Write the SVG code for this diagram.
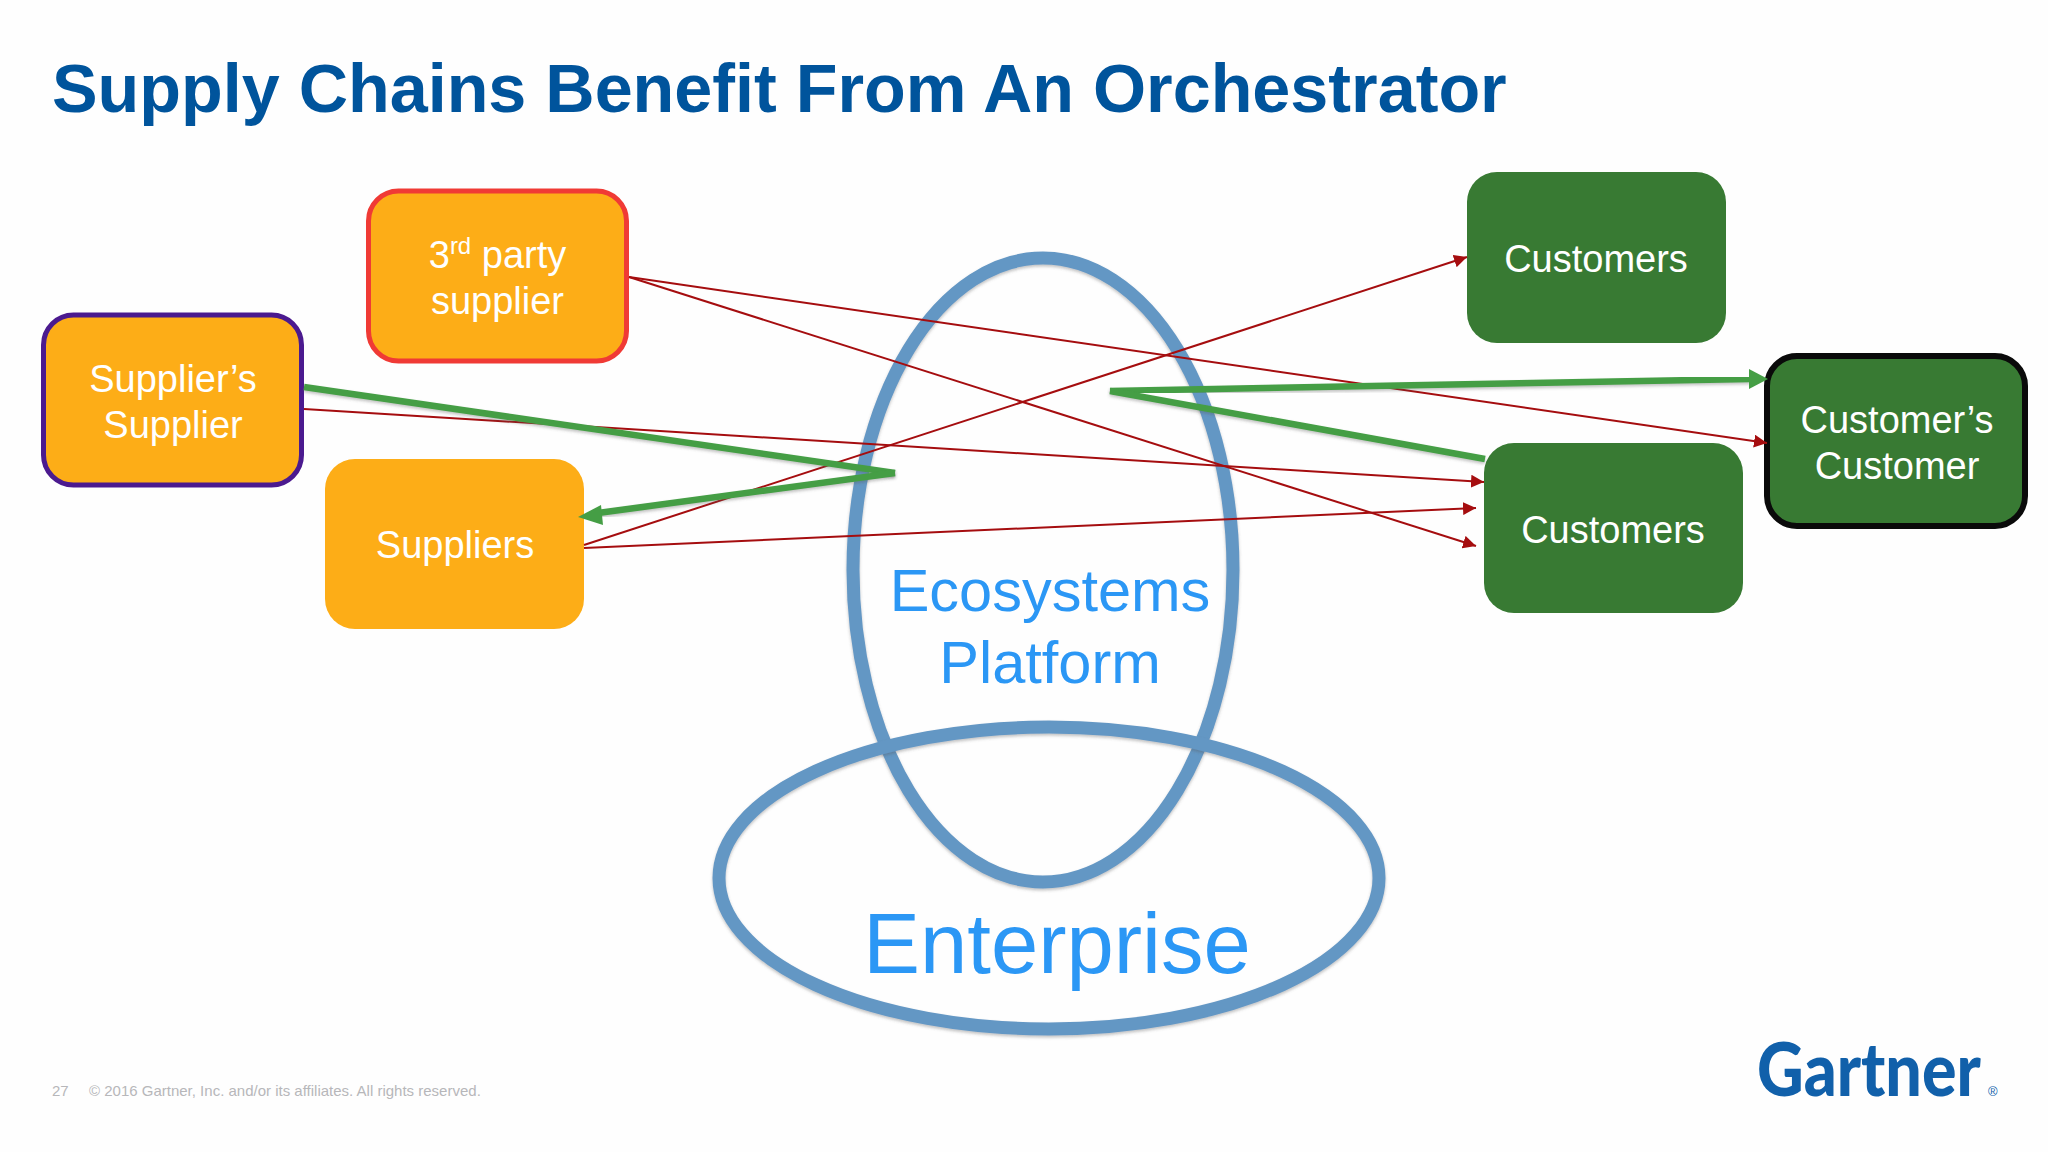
<svg xmlns="http://www.w3.org/2000/svg" width="2048" height="1152" viewBox="0 0 2048 1152">
<style>
text{font-family:"Liberation Sans",Arial,sans-serif}
.box{stroke-width:5}
.org{fill:#fdad17}
.grn{fill:#387a33}
.lbl{fill:#fff;font-size:38px;text-anchor:middle}
.big{fill:#2b97f5;text-anchor:middle}
.ring{fill:none;stroke:#6497c4;stroke-width:13;filter:url(#sh)}
.red{stroke:#a50d0f;stroke-width:2;fill:none;marker-end:url(#ra)}
.gl{stroke:#459e45;stroke-width:6.5;fill:none;filter:url(#sh)}
.foot{fill:#b7b7ba;font-size:15px}
</style>
<defs>
<filter id="sh" x="-10%" y="-10%" width="120%" height="120%"><feDropShadow dx="0" dy="2" stdDeviation="1.5" flood-color="#555" flood-opacity=".35"/></filter>
<marker id="ra" markerUnits="userSpaceOnUse" markerWidth="13" markerHeight="13" refX="13" refY="6.500" orient="auto"><path d="M0 0L13 6.500L0 13z" fill="#a50d0f"/></marker>
</defs>
<rect width="2048" height="1152" fill="#fefefe"/>
<text id="title" x="52" y="112" font-size="68.300" font-weight="700" fill="#00549c">Supply Chains Benefit From An Orchestrator</text>
<g id="ecosystems-platform">
<ellipse class="ring" cx="1043" cy="570" rx="190" ry="312"/>
<text class="big" x="1050" y="611" font-size="59.500">Ecosystems</text>
<text class="big" x="1050" y="683" font-size="59.500">Platform</text>
</g>
<g id="enterprise">
<ellipse class="ring" cx="1049" cy="878" rx="330" ry="151"/>
<text class="big" x="1057" y="973" font-size="85">Enterprise</text>
</g>
<g id="third-party-supplier">
<rect class="box org" x="368.500" y="191" width="258" height="170" rx="30" stroke="#f03a35"/>
<text class="lbl" x="497.500" y="267.500">3<tspan font-size="24" dy="-14">rd</tspan><tspan dy="14"> party</tspan></text>
<text class="lbl" x="497.500" y="314">supplier</text>
</g>
<g id="suppliers-supplier">
<rect class="box org" x="43.500" y="315" width="258" height="170" rx="30" stroke="#4b1a8f"/>
<text class="lbl" x="173" y="392">Supplier’s</text>
<text class="lbl" x="173" y="438">Supplier</text>
</g>
<g id="suppliers">
<rect class="org" x="325" y="459" width="259" height="170" rx="30"/>
<text class="lbl" x="455" y="558">Suppliers</text>
</g>
<g id="customers-top">
<rect class="grn" x="1467" y="172" width="259" height="171" rx="30"/>
<text class="lbl" x="1596" y="272">Customers</text>
</g>
<g id="customers-bottom">
<rect class="grn" x="1484" y="443" width="259" height="170" rx="30"/>
<text class="lbl" x="1613" y="543">Customers</text>
</g>
<g id="customers-customer">
<rect x="1767" y="356" width="258" height="170" rx="30" fill="#387a33" stroke="#0a0a0a" stroke-width="6"/>
<text class="lbl" x="1897" y="433">Customer’s</text>
<text class="lbl" x="1897" y="479">Customer</text>
</g>
<g id="connectors">
<line class="red" x1="629" y1="277" x2="1767" y2="443"/>
<line class="red" x1="629" y1="277" x2="1476" y2="546"/>
<line class="red" x1="304" y1="409" x2="1484" y2="482"/>
<line class="red" x1="584" y1="548" x2="1476" y2="508"/>
<line class="red" x1="584" y1="545" x2="1467" y2="257"/>
<line class="gl" x1="304" y1="387" x2="895" y2="473"/>
<line class="gl" x1="895" y1="473" x2="598" y2="513"/>
<path d="M578 517L601 505L603 525z" fill="#459e45"/>
<line class="gl" x1="1110" y1="391" x2="1750" y2="379"/>
<path d="M1768 379L1749 369L1749 389z" fill="#459e45"/>
<line class="gl" x1="1110" y1="391" x2="1485" y2="459"/>
</g>
<g id="footer">
<text class="foot" x="52" y="1096">27</text>
<text class="foot" x="89" y="1096">© 2016 Gartner, Inc. and/or its affiliates. All rights reserved.</text>
</g>
<g id="gartner-logo">
<text transform="translate(1757 1096) scale(.86 1)" font-size="75" font-weight="900" fill="#1160aa" style="font-family:Lato,'Liberation Sans',sans-serif">Gartner</text>
<text x="1988" y="1096" font-size="13" fill="#1160aa">®</text>
</g>
</svg>
